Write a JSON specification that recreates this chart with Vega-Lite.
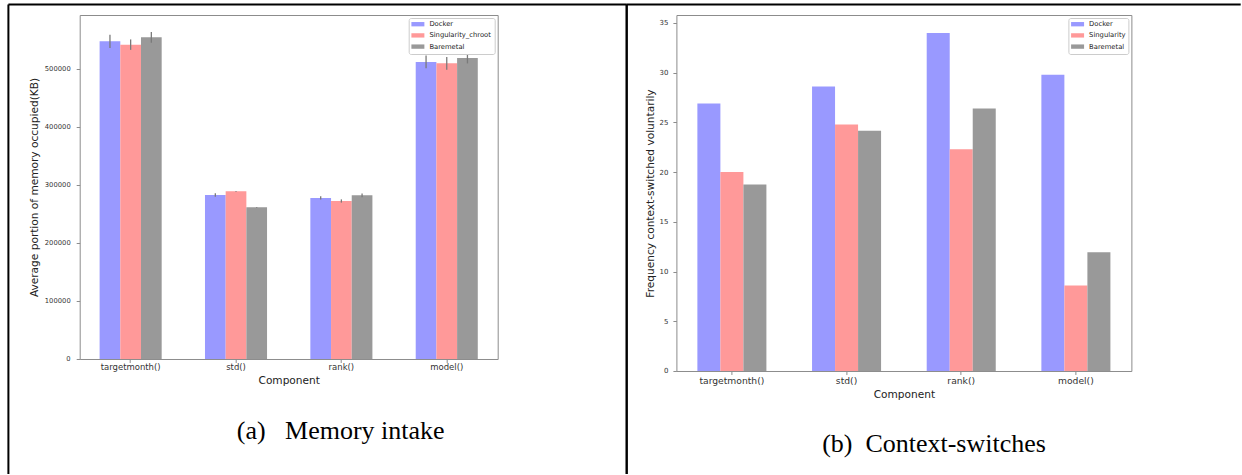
{
  "$schema": "https://vega.github.io/schema/vega-lite/v6.json",
  "background": "white",
  "padding": {"left": 6.7, "top": 3, "right": 0, "bottom": 0},
  "autosize": {"type": "pad"},
  "bounds": "flush",
  "spacing": 178.7,
  "resolve": {
    "scale": {"color": "independent", "xOffset": "independent", "x": "independent", "y": "independent"},
    "legend": {"color": "independent"}
  },
  "config": {
    "font": "DejaVu Sans",
    "view": {"stroke": "#8c8c8c", "strokeWidth": 1},
    "axis": {
      "domain": false,
      "grid": false,
      "tickColor": "#8c8c8c",
      "tickSize": 3.5,
      "labelColor": "#333333",
      "labelFont": "DejaVu Sans",
      "titleFont": "DejaVu Sans",
      "titleFontWeight": "normal",
      "titleColor": "#222222",
      "titleFontSize": 10.6
    },
    "legend": {
      "orient": "top-right",
      "offset": 3.4,
      "title": null,
      "padding": 2.7,
      "strokeColor": "#cccccc",
      "fillColor": "white",
      "cornerRadius": 2,
      "labelFont": "DejaVu Sans",
      "labelFontSize": 6.8,
      "labelColor": "#222222",
      "labelOffset": 11,
      "labelLimit": 300,
      "symbolType": "M-1,-0.62H2.71V0.62H-1Z",
      "symbolSize": 49,
      "symbolStrokeWidth": 0,
      "symbolOpacity": 1,
      "rowPadding": 3.2
    }
  },
  "hconcat": [
    {
      "width": 418,
      "height": 344,
      "title": {
        "text": "(a)\u00a0\u00a0\u00a0Memory intake",
        "orient": "bottom",
        "anchor": "middle",
        "frame": "group",
        "font": "Liberation Serif",
        "fontSize": 26,
        "fontWeight": "normal",
        "color": "#000000",
        "baseline": "alphabetic",
        "dx": 52,
        "offset": -36.2
      },
      "layer": [
        {
          "data": {
            "values": [
              {"component": "targetmonth()", "series": "Docker", "value": 547600, "lo": 536100, "hi": 559100},
              {"component": "targetmonth()", "series": "Singularity_chroot", "value": 541900, "lo": 532900, "hi": 550900},
              {"component": "targetmonth()", "series": "Baremetal", "value": 554500, "lo": 545300, "hi": 563700},
              {"component": "std()", "series": "Docker", "value": 282800, "lo": 279800, "hi": 285800},
              {"component": "std()", "series": "Singularity_chroot", "value": 289000, "lo": 288200, "hi": 289800},
              {"component": "std()", "series": "Baremetal", "value": 261400, "lo": 260900, "hi": 261900},
              {"component": "rank()", "series": "Docker", "value": 277600, "lo": 274800, "hi": 280400},
              {"component": "rank()", "series": "Singularity_chroot", "value": 272400, "lo": 269600, "hi": 275200},
              {"component": "rank()", "series": "Baremetal", "value": 282100, "lo": 279000, "hi": 285200},
              {"component": "model()", "series": "Docker", "value": 512000, "lo": 501000, "hi": 523000},
              {"component": "model()", "series": "Singularity_chroot", "value": 509700, "lo": 498700, "hi": 520700},
              {"component": "model()", "series": "Baremetal", "value": 519000, "lo": 509500, "hi": 528500}
            ]
          },
          "layer": [
            {
              "mark": {"type": "bar"},
              "encoding": {
                "x": {
                  "field": "component", "type": "nominal",
                  "sort": ["targetmonth()", "std()", "rank()", "model()"],
                  "scale": {"paddingInner": 0.411, "paddingOuter": 0.189},
                  "title": "Component",
                  "axis": {"labelAngle": 0, "labelFontSize": 8.5, "labelPadding": 0.5, "titlePadding": 4}
                },
                "xOffset": {"field": "series", "type": "nominal", "sort": ["Docker", "Singularity_chroot", "Baremetal"]},
                "y": {
                  "field": "value", "type": "quantitative",
                  "scale": {"domain": [0, 593000], "nice": false},
                  "title": "Average portion of memory occupied(KB)",
                  "axis": {"values": [0, 100000, 200000, 300000, 400000, 500000], "format": "d", "labelFontSize": 6.8, "labelPadding": 6, "titlePadding": 5}
                },
                "color": {
                  "field": "series", "type": "nominal",
                  "scale": {"domain": ["Docker", "Singularity_chroot", "Baremetal"], "range": ["#9999ff", "#ff9999", "#999999"]}
                }
              }
            },
            {
              "mark": {"type": "rule", "color": "#7a7a7a", "strokeWidth": 1.3},
              "encoding": {
                "x": {"field": "component", "type": "nominal", "sort": ["targetmonth()", "std()", "rank()", "model()"], "title": "Component"},
                "xOffset": {"field": "series", "type": "nominal", "sort": ["Docker", "Singularity_chroot", "Baremetal"]},
                "y": {"field": "lo", "type": "quantitative", "title": "Average portion of memory occupied(KB)"},
                "y2": {"field": "hi"}
              }
            }
          ]
        },
        {
          "data": {
            "values": [
              {"fx": 0, "fx2": 1, "fy": 1, "fy2": 1},
              {"fx": 0, "fx2": 0, "fy": 0, "fy2": 1},
              {"fx": 1, "fx2": 1, "fy": 0, "fy2": 1}
            ]
          },
          "mark": {"type": "rule", "color": "#000000", "strokeWidth": 2},
          "encoding": {
            "x": {"field": "fx", "type": "quantitative", "scale": {"domain": [0, 1], "range": [-71.3, 547], "nice": false, "zero": false}, "axis": null},
            "x2": {"field": "fx2"},
            "y": {"field": "fy", "type": "quantitative", "scale": {"domain": [0, 1], "range": [459, -10.5], "nice": false, "zero": false}, "axis": null},
            "y2": {"field": "fy2"}
          }
        }
      ],
      "resolve": {"scale": {"x": "independent", "y": "independent"}}
    },
    {
      "width": 455,
      "height": 356,
      "title": {
        "text": "(b)\u00a0\u00a0Context-switches",
        "orient": "bottom",
        "anchor": "middle",
        "frame": "group",
        "font": "Liberation Serif",
        "fontSize": 26,
        "fontWeight": "normal",
        "color": "#000000",
        "baseline": "alphabetic",
        "dx": 30.1,
        "offset": -22.8
      },
      "layer": [
        {
          "data": {
            "values": [
              {"component": "targetmonth()", "series": "Docker", "value": 26.9},
              {"component": "targetmonth()", "series": "Singularity", "value": 20.0},
              {"component": "targetmonth()", "series": "Baremetal", "value": 18.75},
              {"component": "std()", "series": "Docker", "value": 28.6},
              {"component": "std()", "series": "Singularity", "value": 24.8},
              {"component": "std()", "series": "Baremetal", "value": 24.15},
              {"component": "rank()", "series": "Docker", "value": 34.0},
              {"component": "rank()", "series": "Singularity", "value": 22.3},
              {"component": "rank()", "series": "Baremetal", "value": 26.4},
              {"component": "model()", "series": "Docker", "value": 29.8},
              {"component": "model()", "series": "Singularity", "value": 8.6},
              {"component": "model()", "series": "Baremetal", "value": 11.95}
            ]
          },
          "mark": {"type": "bar"},
          "encoding": {
            "x": {
              "field": "component", "type": "nominal",
              "sort": ["targetmonth()", "std()", "rank()", "model()"],
              "scale": {"paddingInner": 0.398, "paddingOuter": 0.183},
              "title": "Component",
              "axis": {"labelAngle": 0, "labelFontSize": 9.2, "labelPadding": 2.5, "titlePadding": 3}
            },
            "xOffset": {"field": "series", "type": "nominal", "sort": ["Docker", "Singularity", "Baremetal"]},
            "y": {
              "field": "value", "type": "quantitative",
              "scale": {"domain": [0, 35.8], "nice": false},
              "title": "Frequency context-switched voluntarily",
              "axis": {"values": [0, 5, 10, 15, 20, 25, 30, 35], "format": "d", "labelFontSize": 7, "labelPadding": 5, "titlePadding": 3}
            },
            "color": {
              "field": "series", "type": "nominal",
              "scale": {"domain": ["Docker", "Singularity", "Baremetal"], "range": ["#9999ff", "#ff9999", "#999999"]}
            }
          }
        },
        {
          "data": {
            "values": [
              {"fx": 0, "fx2": 1, "fy": 1, "fy2": 1},
              {"fx": 0, "fx2": 0, "fy": 0, "fy2": 1}
            ]
          },
          "mark": {"type": "rule", "color": "#000000", "strokeWidth": 2},
          "encoding": {
            "x": {"field": "fx", "type": "quantitative", "scale": {"domain": [0, 1], "range": [-49.7, 564.3], "nice": false, "zero": false}, "axis": null},
            "x2": {"field": "fx2"},
            "y": {"field": "fy", "type": "quantitative", "scale": {"domain": [0, 1], "range": [459, -10.5], "nice": false, "zero": false}, "axis": null},
            "y2": {"field": "fy2"}
          }
        }
      ],
      "resolve": {"scale": {"x": "independent", "y": "independent"}}
    }
  ]
}
